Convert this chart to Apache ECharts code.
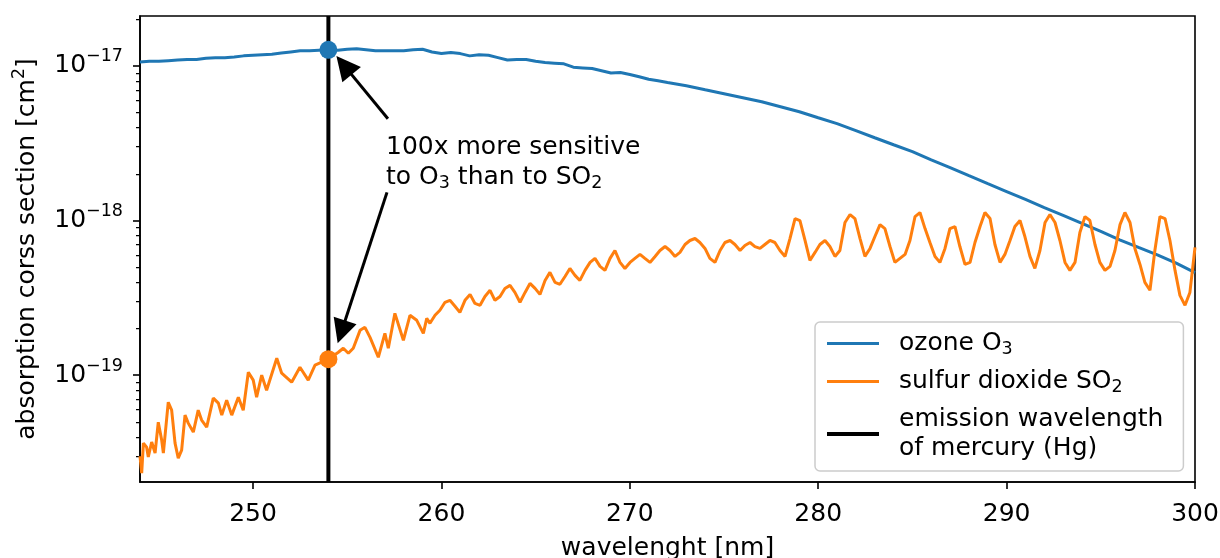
<!DOCTYPE html>
<html>
<head>
<meta charset="utf-8">
<script src="https://cdn.jsdelivr.net/npm/echarts@6/dist/echarts.min.js"></script>
<style>
  html, body { margin: 0; padding: 0; background: #fff; }
  #chart { width: 1220px; height: 558px; }
</style>
</head>
<body>
<div id="chart"></div>
<script>
// Absorption cross sections [cm^2] vs wavelength [nm]

// Ozone O3
const o3Nm = [
  244, 244.5, 245, 245.5, 246, 246.5, 247, 247.5, 248, 248.5, 249, 249.5,
  250, 250.5, 251, 251.5, 252, 252.5, 253, 253.5, 254, 254.5, 255, 255.5,
  256, 256.5, 257, 257.5, 258, 258.5, 259, 259.5, 260, 260.5, 261, 261.5,
  262, 262.5, 263, 263.5, 264, 264.5, 265, 265.5, 266, 266.5, 267, 267.5,
  268, 268.5, 269, 269.5, 270, 270.5, 271, 271.5, 272,
  273, 274, 275, 276, 277, 278, 279, 280, 281, 282, 283, 284, 285, 286,
  287, 288, 289, 290, 291, 292, 293, 294, 295, 296, 297, 298, 299, 300
];
const o3Val = [
  1.06e-17, 1.07e-17, 1.07e-17, 1.08e-17, 1.09e-17, 1.10e-17, 1.10e-17, 1.12e-17, 1.13e-17, 1.13e-17, 1.14e-17, 1.16e-17,
  1.17e-17, 1.18e-17, 1.19e-17, 1.21e-17, 1.23e-17, 1.25e-17, 1.25e-17, 1.26e-17, 1.27e-17, 1.26e-17, 1.28e-17, 1.29e-17,
  1.27e-17, 1.25e-17, 1.25e-17, 1.25e-17, 1.25e-17, 1.27e-17, 1.28e-17, 1.23e-17, 1.20e-17, 1.22e-17, 1.20e-17, 1.16e-17,
  1.18e-17, 1.17e-17, 1.13e-17, 1.09e-17, 1.10e-17, 1.10e-17, 1.07e-17, 1.05e-17, 1.04e-17, 1.03e-17, 9.8e-18, 9.7e-18,
  9.6e-18, 9.3e-18, 9.0e-18, 9.05e-18, 8.8e-18, 8.5e-18, 8.2e-18, 8.0e-18, 7.8e-18,
  7.43e-18, 7.0e-18, 6.6e-18, 6.22e-18, 5.86e-18, 5.44e-18, 5.05e-18, 4.62e-18, 4.23e-18, 3.81e-18, 3.43e-18, 3.09e-18, 2.79e-18, 2.47e-18,
  2.20e-18, 1.95e-18, 1.73e-18, 1.54e-18, 1.37e-18, 1.21e-18, 1.08e-18, 9.6e-19, 8.5e-19, 7.5e-19, 6.7e-19, 6.0e-19, 5.3e-19, 4.6e-19
];

// Sulfur dioxide SO2
const so2Nm = [
  244.00, 244.09, 244.18, 244.35, 244.44, 244.62, 244.80, 244.97, 245.15, 245.24,
  245.50, 245.68, 245.86, 246.03, 246.21, 246.39, 246.56, 246.83, 247.09, 247.27,
  247.54, 247.89, 248.16, 248.34, 248.60, 248.87, 249.22, 249.48, 249.75, 250.01,
  250.19, 250.46, 250.72, 251.26, 251.52, 252.05, 252.49, 252.93, 253.29, 254.00,
  254.53, 254.79, 255.06, 255.32, 255.68, 255.94, 256.21, 256.65, 257.00, 257.18,
  257.53, 257.98, 258.33, 258.69, 259.04, 259.22, 259.39,
  259.66, 259.92, 260.19, 260.45, 260.72, 260.98, 261.25, 261.52, 261.78, 262.05,
  262.31, 262.58, 262.84, 263.11, 263.37, 263.64, 263.90, 264.17, 264.44, 264.70,
  264.97, 265.23, 265.50, 265.76, 266.03, 266.29, 266.56, 266.82, 267.09, 267.35,
  267.62, 267.89, 268.15, 268.42, 268.68, 268.95, 269.21, 269.48, 269.74, 270.01,
  270.27, 270.54, 270.80, 271.07, 271.34, 271.60, 271.87, 272.13, 272.40, 272.66,
  272.93, 273.19, 273.46, 273.72, 273.99, 274.25, 274.52, 274.79, 275.05, 275.32,
  275.58, 275.85, 276.11, 276.38, 276.64, 276.91, 277.17, 277.44, 277.70, 277.97,
  278.24, 278.50, 278.77, 279.03, 279.30, 279.56, 279.83, 280.09, 280.36, 280.62,
  280.89, 281.15, 281.42, 281.69, 281.95, 282.22, 282.48, 282.75, 283.01, 283.28,
  283.54, 283.81, 284.07, 284.34, 284.61, 284.87, 285.14, 285.40, 285.67, 285.93,
  286.20, 286.46, 286.73, 286.99, 287.26, 287.52, 287.79, 288.06, 288.32, 288.59,
  288.85, 289.12, 289.38, 289.65, 289.91, 290.18, 290.44, 290.71, 290.97, 291.24,
  291.50, 291.77, 292.04, 292.30, 292.57, 292.83, 293.10, 293.36, 293.63, 293.89,
  294.16, 294.42, 294.69, 294.95, 295.22, 295.49, 295.75, 296.02, 296.28, 296.55,
  296.81, 297.08, 297.34, 297.61, 297.87, 298.14, 298.41, 298.67, 298.94, 299.20,
  299.47, 299.73, 300.00
];
const so2Val = [
  3.0e-20, 2.33e-20, 3.64e-20, 3.43e-20, 2.96e-20, 3.70e-20, 3.14e-20, 4.97e-20, 3.81e-20, 3.14e-20,
  6.69e-20, 5.94e-20, 3.64e-20, 2.91e-20, 3.28e-20, 5.52e-20, 4.90e-20, 4.29e-20, 5.94e-20, 5.13e-20,
  4.62e-20, 7.11e-20, 6.60e-20, 5.52e-20, 6.90e-20, 5.52e-20, 7.21e-20, 5.94e-20, 1.046e-19, 9.29e-20,
  7.21e-20, 1.0e-19, 8.0e-20, 1.287e-19, 1.03e-19, 9.01e-20, 1.126e-19, 9.29e-20, 1.16e-19, 1.27e-19,
  1.407e-19, 1.493e-19, 1.386e-19, 1.493e-19, 1.95e-19, 2.04e-19, 1.758e-19, 1.306e-19, 1.866e-19, 1.493e-19,
  2.512e-19, 1.682e-19, 2.44e-19, 2.264e-19, 1.866e-19, 2.333e-19, 2.165e-19,
  2.44e-19, 2.63e-19, 2.96e-19, 3.05e-19, 2.79e-19, 2.55e-19, 3.05e-19, 3.33e-19, 2.91e-19, 2.83e-19,
  3.23e-19, 3.54e-19, 3.05e-19, 3.23e-19, 3.64e-19, 3.81e-19, 3.43e-19, 2.96e-19, 3.43e-19, 3.92e-19,
  3.64e-19, 3.33e-19, 4.10e-19, 4.62e-19, 3.98e-19, 3.87e-19, 4.35e-19, 4.90e-19, 4.42e-19, 4.10e-19,
  4.76e-19, 5.36e-19, 5.69e-19, 5.05e-19, 4.76e-19, 5.69e-19, 6.40e-19, 5.36e-19, 4.90e-19, 5.36e-19,
  5.69e-19, 6.04e-19, 5.69e-19, 5.36e-19, 5.86e-19, 6.40e-19, 6.79e-19, 6.40e-19, 5.86e-19, 6.22e-19,
  7.00e-19, 7.43e-19, 7.65e-19, 7.21e-19, 6.60e-19, 5.69e-19, 5.36e-19, 6.40e-19, 7.21e-19, 7.43e-19,
  7.00e-19, 6.40e-19, 6.90e-19, 7.21e-19, 6.79e-19, 6.60e-19, 7.00e-19, 7.43e-19, 7.21e-19, 6.40e-19,
  5.86e-19, 7.65e-19, 1.030e-18, 1.000e-18, 7.43e-19, 5.52e-19, 6.22e-19, 7.00e-19, 7.43e-19, 6.79e-19,
  5.86e-19, 6.40e-19, 9.71e-19, 1.093e-18, 1.030e-18, 7.65e-19, 5.86e-19, 6.60e-19, 7.88e-19, 9.41e-19,
  8.87e-19, 6.79e-19, 5.36e-19, 5.69e-19, 6.04e-19, 7.43e-19, 1.061e-18, 1.126e-18, 8.87e-19, 7.21e-19,
  5.86e-19, 5.36e-19, 6.60e-19, 8.87e-19, 9.14e-19, 6.79e-19, 5.20e-19, 5.36e-19, 7.21e-19, 9.14e-19,
  1.126e-18, 1.030e-18, 7.00e-19, 5.36e-19, 6.04e-19, 7.43e-19, 9.14e-19, 1.000e-18, 7.88e-19, 5.86e-19,
  4.90e-19, 6.40e-19, 9.71e-19, 1.093e-18, 9.71e-19, 7.43e-19, 5.36e-19, 4.76e-19, 5.36e-19, 8.37e-19,
  1.061e-18, 1.000e-18, 7.00e-19, 5.36e-19, 4.76e-19, 5.05e-19, 6.40e-19, 9.41e-19, 1.126e-18, 9.71e-19,
  6.60e-19, 5.20e-19, 3.98e-19, 3.54e-19, 6.40e-19, 1.061e-18, 1.030e-18, 7.43e-19, 4.76e-19, 3.28e-19,
  2.83e-19, 3.43e-19, 6.70e-19
];

const hgNm = 254;
const hgO3 = 1.27e-17;
const hgSO2 = 1.27e-19;

// Annotation: text anchor and arrows [tail, head] in data units
const noteAt = [257.06, 2.37e-18];
const arrowO3 = [[257.16, 4.55e-18], [254.83, 1.007e-17]];
const arrowSO2 = [[257.11, 1.52e-18], [254.69, 1.905e-19]];

// Axes
const xMin = 244, xMax = 300;
const yMin = 2.04e-20, yMax = 2.1e-17;
const xTicks = [250, 260, 270, 280, 290, 300];
const yTicks = [1e-19, 1e-18, 1e-17];
const yMinorTicks = [
  3e-20, 4e-20, 5e-20, 6e-20, 7e-20, 8e-20, 9e-20,
  2e-19, 3e-19, 4e-19, 5e-19, 6e-19, 7e-19, 8e-19, 9e-19,
  2e-18, 3e-18, 4e-18, 5e-18, 6e-18, 7e-18, 8e-18, 9e-18,
  2e-17
];

const FONT = 'DejaVu Sans';
const FS = 25;         // main text size
const FS_SMALL = 17.5; // sub/superscripts
const BLUE = '#1f77b4';
const ORANGE = '#ff7f0e';

const pair = (xs, ys) => xs.map((x, i) => [x, ys[i]]);

const names = {
  o3: 'ozone O3',
  so2: 'sulfur dioxide SO2',
  hg: 'mercury'
};
const legendText = {
  'ozone O3': 'ozone O{sub|3}',
  'sulfur dioxide SO2': 'sulfur dioxide SO{sub|2}',
  'mercury': 'emission wavelength\nof mercury (Hg)'
};

const chart = echarts.init(document.getElementById('chart'), null, { renderer: 'canvas' });

chart.setOption({
  animation: false,
  backgroundColor: '#fff',
  textStyle: { fontFamily: FONT },
  grid: {
    left: 140, right: 25, top: 16, bottom: 76,
    show: true, borderColor: '#000', borderWidth: 1.6,
    outerBoundsMode: 'none'
  },
  xAxis: {
    type: 'value',
    min: xMin, max: xMax,
    name: 'wavelenght [nm]',
    nameLocation: 'middle',
    nameGap: 54,
    nameTextStyle: { fontFamily: FONT, fontSize: FS, color: '#000' },
    axisLine: { show: true, onZero: false, lineStyle: { color: '#000', width: 1.6 } },
    axisTick: { show: true, length: 7, lineStyle: { color: '#000', width: 1.6 }, customValues: xTicks },
    axisLabel: { customValues: xTicks, fontFamily: FONT, fontSize: FS, color: '#000', margin: 20 },
    splitLine: { show: false }
  },
  yAxis: [
    {
      type: 'log',
      logBase: 10,
      min: yMin, max: yMax,
      name: 'absorption corss section [cm{sup|2}]',
      nameLocation: 'middle',
      nameGap: 96,
      nameTextStyle: {
        fontFamily: FONT, fontSize: FS, color: '#000',
        rich: { sup: { fontFamily: FONT, fontSize: FS_SMALL, color: '#000', padding: [0, 0, 16, 0] } }
      },
      axisLine: { show: true, lineStyle: { color: '#000', width: 1.6 } },
      axisTick: { show: true, length: 7, lineStyle: { color: '#000', width: 1.6 }, customValues: yTicks },
      axisLabel: {
        customValues: yTicks,
        margin: 17,
        formatter: v => '{b|10}{e|\u2212' + Math.abs(Math.round(Math.log10(v))) + '}',
        rich: {
          b: { fontFamily: FONT, fontSize: FS, color: '#000' },
          e: { fontFamily: FONT, fontSize: FS_SMALL, color: '#000', padding: [0, 0, 18, 0] }
        }
      },
      splitLine: { show: false }
    },
    {
      type: 'log',
      logBase: 10,
      min: yMin, max: yMax,
      position: 'left',
      axisLine: { show: false },
      axisTick: { show: true, length: 4, lineStyle: { color: '#000', width: 1.25 }, customValues: yMinorTicks },
      axisLabel: { show: false },
      splitLine: { show: false }
    }
  ],
  legend: {
    orient: 'vertical',
    left: 815, top: 322,
    itemWidth: 52, itemHeight: 14,
    itemGap: 9,
    padding: [7, 20, 8, 10],
    backgroundColor: 'rgba(255,255,255,0.8)',
    borderColor: '#cccccc', borderWidth: 1.5, borderRadius: 5,
    selectedMode: false,
    itemStyle: { opacity: 0 },
    lineStyle: { width: 'inherit' },
    data: [names.o3, names.so2, names.hg],
    formatter: n => legendText[n],
    textStyle: {
      fontFamily: FONT, fontSize: FS, color: '#000', lineHeight: 29,
      padding: [0, 0, 0, 15],
      rich: { sub: { fontFamily: FONT, fontSize: FS_SMALL, color: '#000', padding: [11, 0, 0, 0], lineHeight: 29 } }
    }
  },
  series: [
    {
      name: names.o3, type: 'line', data: pair(o3Nm, o3Val),
      symbol: 'none', lineStyle: { color: BLUE, width: 3 }, itemStyle: { color: BLUE }, z: 2
    },
    {
      name: names.so2, type: 'line', data: pair(so2Nm, so2Val),
      symbol: 'none', lineStyle: { color: ORANGE, width: 3 }, itemStyle: { color: ORANGE }, z: 2
    },
    {
      name: names.hg, type: 'line', data: [[hgNm, yMin], [hgNm, yMax]],
      symbol: 'none', lineStyle: { color: '#000', width: 4 }, itemStyle: { color: '#000' }, z: 3
    },
    {
      type: 'scatter', data: [[hgNm, hgO3]], symbolSize: 18,
      itemStyle: { color: BLUE, opacity: 1 }, z: 4
    },
    {
      type: 'scatter', data: [[hgNm, hgSO2]], symbolSize: 18,
      itemStyle: { color: ORANGE, opacity: 1 }, z: 4
    },
    {
      type: 'lines', coordinateSystem: 'cartesian2d', polyline: false,
      data: [{ coords: arrowO3 }, { coords: arrowSO2 }],
      symbol: ['none', 'triangle'], symbolSize: [20, 24],
      lineStyle: { color: '#000', width: 3, opacity: 1, curveness: 0 },
      z: 5
    },
    {
      type: 'scatter', data: [noteAt], symbolSize: 0, z: 5,
      itemStyle: { opacity: 1 },
      label: {
        show: true, position: 'right', distance: 0,
        formatter: '100x more sensitive\nto O{sub|3} than to SO{sub|2}',
        fontFamily: FONT, fontSize: FS, color: '#000', lineHeight: 30, align: 'left',
        rich: { sub: { fontFamily: FONT, fontSize: FS_SMALL, color: '#000', padding: [11, 0, 0, 0], lineHeight: 30 } }
      }
    }
  ]
});
</script>
</body>
</html>
